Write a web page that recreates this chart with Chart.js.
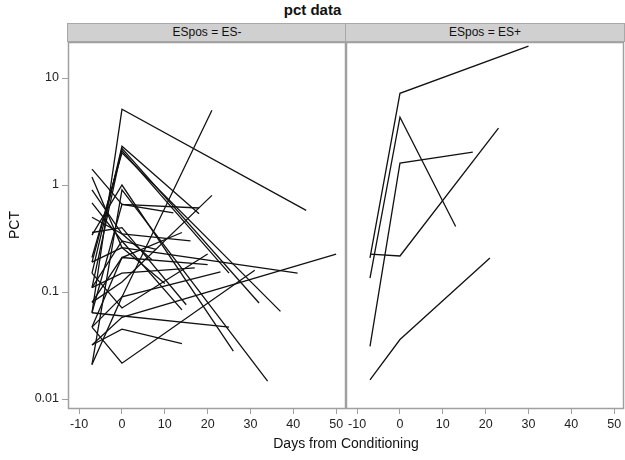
<!DOCTYPE html>
<html>
<head>
<meta charset="utf-8">
<script src="https://cdn.jsdelivr.net/npm/chart.js@4.4.1/dist/chart.umd.min.js"></script>
<style>
  body { margin: 0; width: 625px; height: 460px; background: #fff; position: relative; overflow: hidden;
         font-family: "Liberation Sans", Arial, sans-serif; color: #111; }
  .title { position: absolute; top: 1px; left: 0; width: 625px; text-align: center; font-weight: bold; font-size: 15px; }
  .strip { position: absolute; top: 23px; height: 19px; background: #d0d0d0; border: 1px solid #a8a8a8;
           box-sizing: border-box; font-size: 12px; text-align: center; line-height: 17px; }
  .xtitle { position: absolute; top: 435px; left: 68px; width: 556px; text-align: center; font-size: 14px; }
  .ytitle { position: absolute; left: 14px; top: 225px; font-size: 14px; transform: translate(-50%, -50%) rotate(-90deg); }
  canvas { position: absolute; top: 0; }
</style>
</head>
<body>
<div class="title">pct data</div>
<div class="strip" style="left:67px; width:280px;">ESpos = ES-</div>
<div class="strip" style="left:345px; width:280px;">ESpos = ES+</div>
<canvas id="left" width="352" height="460" style="left:0"></canvas>
<canvas id="right" width="290" height="460" style="left:340px"></canvas>
<div class="ytitle">PCT</div>
<div class="xtitle">Days from Conditioning</div>

<script>
// tick labels
const xTicks = [-10, 0, 10, 20, 30, 40, 50];
const yTicks = [0.01, 0.1, 1, 10];

// ES- subjects: days and pct values, one row per subject
const esNegDays = [
  [-7, 0, 43], [-7, 0, 21], [-7, 0, 18], [-7, 0, 32], [-7, 0, 37], [-7, 0, 25],
  [-7, 0, 18], [-7, 0, 26], [-7, 0, 34], [-7, 0, 21], [-7, 0, 50], [-7, 0, 31],
  [-7, 0, 41], [-7, 0, 14], [-7, 0, 15], [-7, 0, 14], [-7, 25], [-7, 0, 17],
  [-7, 0, 14], [-7, 0, 20], [-7, 0, 23], [-7, 0, 16], [-7, 0, 10], [-7, 0, 12],
  [-7, 0, 8], [-7, 0, 20], [-7, 0, 7]
];
const esNegPct = [
  [0.064, 5.1, 0.58], [0.047, 0.09, 5.0], [0.15, 2.3, 0.54], [0.11, 2.2, 0.079], [0.21, 2.0, 0.066], [0.19, 2.1, 0.15],
  [1.41, 0.66, 0.61], [0.34, 1.0, 0.028], [0.021, 0.9, 0.0147], [0.08, 0.124, 0.8], [0.032, 0.058, 0.226], [0.047, 0.0216, 0.16],
  [1.19, 0.26, 0.15], [0.68, 0.3, 0.068], [0.36, 0.4, 0.076], [0.032, 0.045, 0.033], [0.064, 0.047], [0.11, 0.15, 0.168],
  [0.08, 0.21, 0.36], [0.15, 0.071, 0.227], [0.021, 0.09, 0.154], [0.5, 0.35, 0.3], [0.19, 0.26, 0.12], [0.064, 0.66, 0.55],
  [0.11, 0.3, 0.25], [0.047, 0.21, 0.18], [0.9, 0.35, 0.2]
];

// ES+ subjects
const esPosDays = [[-7, 0, 30], [-7, 0, 13], [-7, 0, 17], [-7, 0, 23], [-7, 0, 21]];
const esPosPct = [[0.208, 7.2, 19.9], [0.135, 4.3, 0.41], [0.031, 1.6, 2.03], [0.226, 0.217, 3.4], [0.0151, 0.036, 0.208]];

const xMin = -12.6, xMax = 52.3;
const yMin = 0.00807, yMax = 21.7;
const frameColor = '#a0a0a0';

// draws the grey box round each panel
const framePlugin = {
  id: 'frame',
  afterDraw(chart) {
    const a = chart.chartArea;
    const ctx = chart.ctx;
    ctx.save();
    ctx.strokeStyle = frameColor;
    ctx.lineWidth = 1.5;
    ctx.strokeRect(a.left + 0.5, a.top + 0.5, a.right - a.left - 1, a.bottom - a.top - 1);
    ctx.restore();
  }
};

function makeDatasets(days, pct) {
  return days.map((d, i) => ({
    data: d.map((x, j) => ({ x: x, y: pct[i][j] })),
    borderColor: '#111',
    borderWidth: 1.3,
    pointRadius: 0,
    fill: false,
    tension: 0
  }));
}

const tickFont = { family: '"Liberation Sans", Arial, sans-serif', size: 12.5 };

function makeChart(id, days, pct, showY, padding) {
  return new Chart(document.getElementById(id), {
    type: 'line',
    data: { datasets: makeDatasets(days, pct) },
    options: {
      responsive: false,
      animation: false,
      devicePixelRatio: 1,
      layout: { padding: padding },
      plugins: { legend: { display: false }, tooltip: { enabled: false } },
      scales: {
        x: {
          type: 'linear',
          min: xMin, max: xMax,
          afterBuildTicks: s => { s.ticks = xTicks.map(v => ({ value: v })); },
          afterFit: s => { s.height = 51; },
          ticks: { color: '#222', font: tickFont, padding: 3, maxRotation: 0, autoSkip: false,
                   callback: v => String(v) },
          grid: { display: true, drawOnChartArea: false, drawTicks: true, tickLength: 5, color: frameColor },
          border: { display: false }
        },
        y: {
          type: 'logarithmic',
          display: showY,
          min: yMin, max: yMax,
          afterBuildTicks: s => { s.ticks = yTicks.map(v => ({ value: v })); },
          afterFit: s => { s.width = showY ? 68 : 0; },
          ticks: { color: '#222', font: tickFont, padding: 3, autoSkip: false,
                   callback: v => String(v) },
          grid: { display: true, drawOnChartArea: false, drawTicks: true, tickLength: 6, color: frameColor },
          border: { display: false }
        }
      }
    },
    plugins: [framePlugin]
  });
}

makeChart('left', esNegDays, esNegPct, true, { top: 42, right: 6, bottom: 0, left: 0 });
makeChart('right', esPosDays, esPosPct, false, { top: 42, right: 6, bottom: 0, left: 6 });
</script>
</body>
</html>
